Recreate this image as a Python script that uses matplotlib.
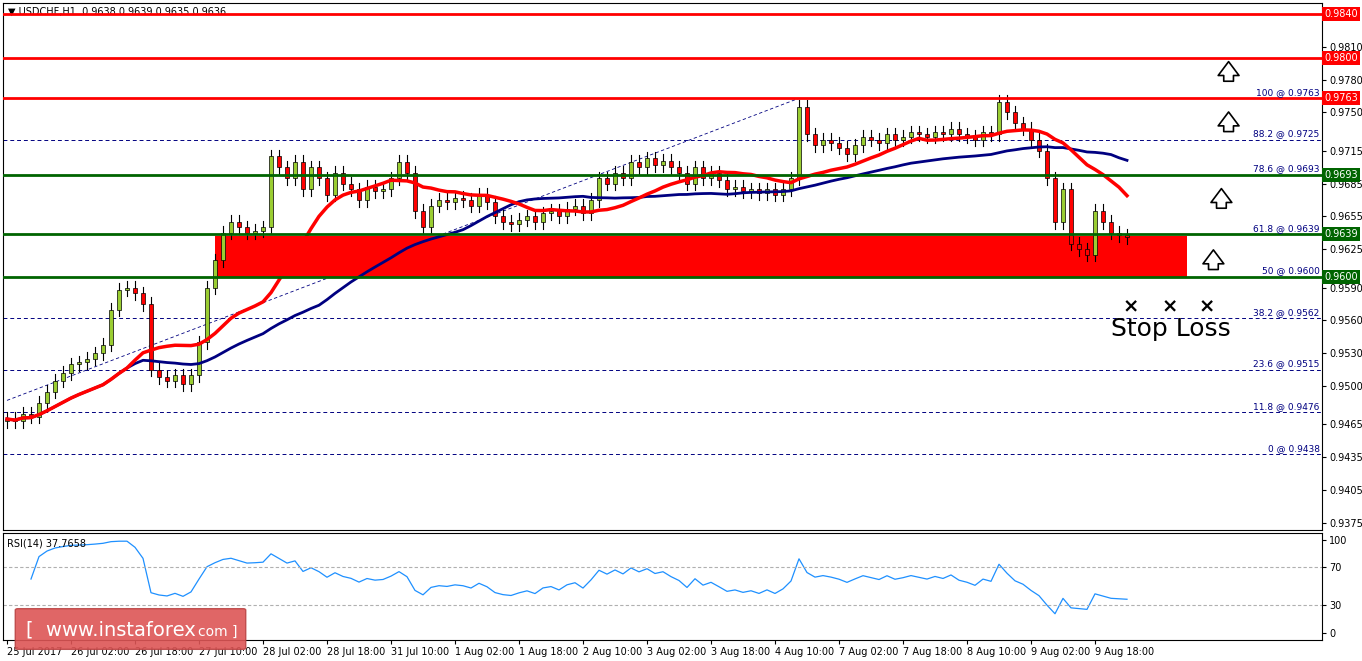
import numpy as np
import pandas as pd
import matplotlib
matplotlib.use("Agg")
import matplotlib.pyplot as plt
from matplotlib.patches import Rectangle, FancyBboxPatch

# 2-hour closes, in 1e-4 units
closes = [9470, 9468, 9475, 9472, 9485, 9495, 9505, 9512,
          9520, 9522, 9525, 9530, 9538, 9570, 9588, 9590, 9585, 9575,
          9515, 9508, 9505, 9510, 9502, 9510, 9540, 9590,
          9615, 9640, 9650, 9645, 9640, 9642, 9645, 9710,
          9700, 9690, 9705, 9680, 9700, 9690, 9675, 9695,
          9685, 9680, 9670, 9682, 9678, 9680, 9690, 9705, 9695, 9660, 9645,
          9665, 9670, 9668, 9672, 9670, 9665, 9675, 9668, 9655,
          9650, 9648, 9652, 9655, 9650, 9658, 9660, 9655,
          9662, 9665, 9658, 9670, 9690, 9685, 9695, 9690,
          9705, 9700, 9708, 9702, 9706, 9700, 9695,
          9685, 9700, 9690, 9695, 9688,
          9680, 9682, 9678, 9680, 9676, 9680, 9675, 9680, 9690,
          9755, 9730, 9720,
          9725, 9722, 9718, 9712, 9720, 9728, 9725, 9722, 9730, 9725, 9728,
          9732, 9730, 9728, 9732, 9730, 9735, 9730, 9728, 9725, 9732, 9730,
          9760, 9750, 9740, 9735, 9725, 9715, 9690, 9650, 9680,
          9630, 9625, 9620, 9660, 9650, 9640, 9638, 9636]
opens = [9468] + closes[:-1]

red_levels = [0.9840, 0.9800, 0.9763]
green_levels = [0.9693, 0.9639, 0.9600]
fib_names = ["100", "88.2", "78.6", "61.8", "50", "38.2", "23.6", "11.8", "0"]
fib_values = [0.9763, 0.9725, 0.9693, 0.9639, 0.9600, 0.9562, 0.9515, 0.9476, 0.9438]
price_ticks = [0.9810, 0.9780, 0.9750, 0.9715, 0.9685, 0.9655, 0.9625, 0.9590,
               0.9560, 0.9530, 0.9500, 0.9465, 0.9435, 0.9405, 0.9375]
time_labels = ["25 Jul 2017", "26 Jul 02:00", "26 Jul 18:00", "27 Jul 10:00",
               "28 Jul 02:00", "28 Jul 18:00", "31 Jul 10:00", "1 Aug 02:00",
               "1 Aug 18:00", "2 Aug 10:00", "3 Aug 02:00", "3 Aug 18:00",
               "4 Aug 10:00", "7 Aug 02:00", "7 Aug 18:00", "8 Aug 10:00",
               "9 Aug 02:00", "9 Aug 18:00"]

c = np.array(closes) / 1e4
o = np.array(opens) / 1e4
n = len(c)
x = np.arange(n)
s = pd.Series(c)
ma_fast = s.rolling(16, min_periods=1).mean()
ma_slow = s.rolling(40, min_periods=1).mean()
d = s.diff().fillna(0)
up = d.clip(lower=0).ewm(alpha=1 / 10).mean()
dn = (-d.clip(upper=0)).ewm(alpha=1 / 10).mean()
rsi = 100 - 100 / (1 + up / (dn + 1e-6))

W, H = 1362, 661
fig = plt.figure(figsize=(W / 100, H / 100), dpi=100)
plt.rcParams['font.family'] = ['DejaVu Sans']
ax = fig.add_axes([3 / W, 1 - 530 / H, 1319 / W, 527 / H])
ar = fig.add_axes([3 / W, 1 - 640 / H, 1319 / W, 107 / H])
xmax = 1319 / 8 - 0.5
for a in (ax, ar):
    a.set_xlim(-0.5, xmax)
    a.set_facecolor("white")
    for sp in a.spines.values():
        sp.set_linewidth(0.8)
ax.set_ylim(0.93686, 0.98500)
ar.set_ylim(-8, 107)

# candles
for i in range(n):
    hi = max(o[i], c[i]) + 0.0006
    lo = min(o[i], c[i]) - 0.0006
    ax.plot([i, i], [lo, hi], color="black", lw=0.8, zorder=3)
    col = "yellowgreen" if c[i] >= o[i] else "red"
    ax.add_patch(Rectangle((i - 0.3, min(o[i], c[i])), 0.6,
                           max(abs(c[i] - o[i]), 0.00005),
                           fc=col, ec="black", lw=0.5, zorder=4))
ax.plot(x, ma_slow, color="#000080", lw=2, zorder=5)
ax.plot(x, ma_fast, color="red", lw=2.5, zorder=6)

# zone and levels
ax.add_patch(Rectangle((26, 0.9600), 147.5 - 26, 0.9637 - 0.9600, fc="red", ec="none", zorder=2))
for v in red_levels:
    ax.axhline(v, color="red", lw=2, zorder=7)
for v in green_levels:
    ax.axhline(v, color="#006400", lw=2, zorder=7)
for name, v in zip(fib_names, fib_values):
    if v not in red_levels and v not in green_levels:
        ax.axhline(v, color="#000080", lw=0.7, ls=(0, (4, 3)), zorder=1)
    ax.text(xmax - 0.3, v + 0.00012, f"{name} @ {v:.4f}", color="#000080",
            fontsize=6.5, ha="right", va="bottom", zorder=8)
ax.plot([0, 99], [0.9487, 0.9763], color="#000080", lw=0.6, ls=(0, (4, 3)), zorder=1)

# arrows, stop loss
for ax_x, ay in [(152.7, 0.9776), (152.7, 0.9730), (151.8, 0.9660), (150.8, 0.9604)]:
    ax.annotate("", xy=(ax_x, ay + 0.0023), xytext=(ax_x, ay),
                arrowprops=dict(arrowstyle="simple,head_length=1.0,head_width=1.5,tail_width=0.7",
                                fc="white", ec="black", lw=1.2), zorder=9)
for sx in [140.5, 145.3, 150]:
    ax.text(sx, 0.9572, "×", fontsize=14, fontweight="bold", ha="center", va="center")
ax.text(145.5, 0.9552, "Stop Loss", fontsize=18, ha="center", va="center")

ax.text(0.004, 0.993, "▼ USDCHF,H1  0.9638 0.9639 0.9635 0.9636", transform=ax.transAxes,
        fontsize=7, va="top", ha="left")

# right price axis
ax.yaxis.tick_right()
ax.set_yticks(price_ticks)
ax.set_yticklabels([f"{v:.4f}" for v in price_ticks], fontsize=7)
ax.tick_params(axis="y", length=3, pad=2)
ax.set_xticks([])
for v, col in [(v, "red") for v in red_levels] + [(v, "#006400") for v in green_levels]:
    ax.text(1.0015, v, f"{v:.4f}", transform=ax.get_yaxis_transform(), fontsize=7,
            color="white", va="center", ha="left",
            bbox=dict(boxstyle="square,pad=0.2", fc=col, ec="none"), clip_on=False)

# RSI
ar.plot(x[3:], rsi[3:], color="#1E90FF", lw=0.9)
for lv in (30, 70):
    ar.axhline(lv, color="#b0b0b0", lw=0.8, ls=(0, (3, 2)))
ar.yaxis.tick_right()
ar.set_yticks([0, 30, 70, 100])
ar.set_yticklabels(["0", "30", "70", "100"], fontsize=7)
ar.tick_params(axis="y", length=3, pad=2)
ar.text(0.003, 0.95, "RSI(14) 37.7658", transform=ar.transAxes, fontsize=7, va="top")
ar.set_xticks(np.arange(len(time_labels)) * 8)
ar.set_xticklabels(time_labels, fontsize=7, ha="left")
ar.tick_params(axis="x", length=3, pad=2)

# watermark
fig.patches.append(FancyBboxPatch((18 / W, 1 - 648 / H), 225 / W, 38 / H,
                                  boxstyle="round,pad=0.002", transform=fig.transFigure,
                                  fc="#dd5555", ec="#bb4444", alpha=0.9, zorder=20))
fig.text(26 / W, 1 - 630 / H, "[  www.instaforex", color="white", fontsize=14,
         va="center", ha="left", zorder=21)
fig.text(198 / W, 1 - 632 / H, "com ]", color="white", fontsize=10,
         va="center", ha="left", zorder=21)

fig.savefig("out.png", dpi=100)
